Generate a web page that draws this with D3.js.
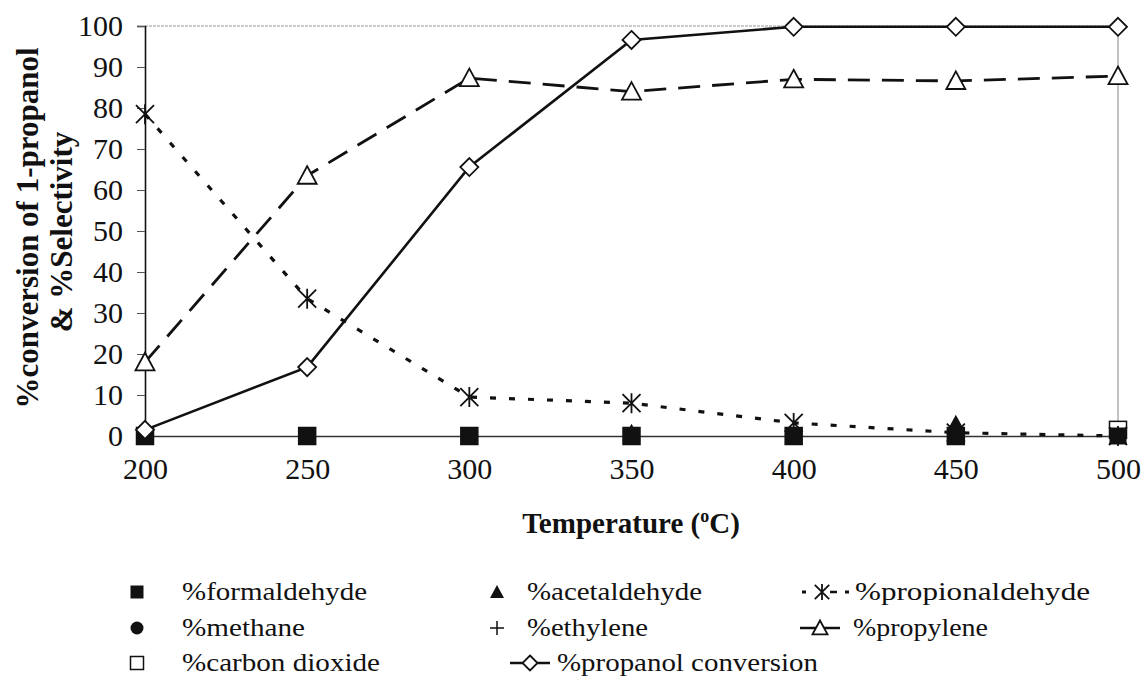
<!DOCTYPE html>
<html>
<head>
<meta charset="utf-8">
<script src="https://cdn.jsdelivr.net/npm/d3@7"></script>
<style>
  html, body { margin: 0; padding: 0; background: #fff; }
  svg { display: block; }
</style>
</head>
<body>
<svg id="chart" width="1142" height="690"></svg>
<script>
// Reaction temperature (°C)
const temperatures = [200, 250, 300, 350, 400, 450, 500];

// Selectivity (%) of each product and 1-propanol conversion (%)
const formaldehyde    = [0, 0, 0, 0, 0, 0, 0];
const acetaldehyde    = [0, 0, 0, 0.8, 0, 3, 0];
const propionaldehyde = [78.5, 33.5, 9.5, 8, 3.2, 0.8, 0];
const methane         = [0, 0, 0, 0, 0, 0, 0];
const ethylene        = [0, 0, 0, 0, 0, 0, 0];
const propylene       = [18, 63.5, 87.3, 84, 87, 86.6, 87.8];
const carbonDioxide   = [0, 0, 0, 0, 0, 0, 1.5];
const propanolConv    = [1.5, 16.8, 65.6, 96.6, 99.8, 99.8, 99.8];

const yTicks = [0, 10, 20, 30, 40, 50, 60, 70, 80, 90, 100];
const xTicks = [200, 250, 300, 350, 400, 450, 500];

const FONT = "'Liberation Serif', 'Times New Roman', serif";
const svg = d3.select("#chart");
const plotLeft = 145, plotRight = 1118, plotTop = 26, plotBottom = 436;

const x = d3.scaleLinear().domain([200, 500]).range([plotLeft, plotRight]);
const y = d3.scaleLinear().domain([0, 100]).range([plotBottom, plotTop]);

// plot frame: top and right edges in light grey
svg.append("line").attr("x1", plotLeft).attr("x2", plotRight).attr("y1", plotTop).attr("y2", plotTop)
  .attr("stroke", "#9a9a9a").attr("stroke-width", 1.2).attr("stroke-dasharray", "3,1");
svg.append("line").attr("x1", plotRight).attr("x2", plotRight).attr("y1", plotTop).attr("y2", plotBottom)
  .attr("stroke", "#9a9a9a").attr("stroke-width", 1.2);

// y axis
const yAxis = svg.append("g").attr("transform", `translate(${plotLeft},0)`)
  .call(d3.axisLeft(y).tickValues(yTicks).tickSize(8).tickPadding(14).tickFormat(d3.format("d")));
yAxis.select(".domain").attr("stroke", "#111").attr("stroke-width", 1.6);
yAxis.selectAll(".tick line").attr("stroke", "#555").attr("stroke-width", 1);
yAxis.selectAll(".tick text").attr("font-size", 30).attr("fill", "#111").style("font-family", FONT);

// x axis
const xAxis = svg.append("g").attr("transform", `translate(0,${plotBottom})`)
  .call(d3.axisBottom(x).tickValues(xTicks).tickSize(0).tickPadding(22).tickFormat(d3.format("d")));
xAxis.select(".domain").attr("stroke", "#333").attr("stroke-width", 1.3);
xAxis.selectAll(".tick text").attr("font-size", 30).attr("fill", "#111").style("font-family", FONT);

// axis titles
svg.append("text").attr("transform", "translate(38,228) rotate(-90)")
  .attr("text-anchor", "middle").attr("font-size", 31).attr("font-weight", "bold")
  .attr("fill", "#111").style("font-family", FONT)
  .text("%conversion of 1-propanol");
svg.append("text").attr("transform", "translate(72,232) rotate(-90)")
  .attr("text-anchor", "middle").attr("font-size", 31).attr("font-weight", "bold")
  .attr("fill", "#111").style("font-family", FONT)
  .text("&  %Selectivity");

const xTitle = svg.append("text").attr("x", 631).attr("y", 533)
  .attr("text-anchor", "middle").attr("font-size", 29).attr("font-weight", "bold")
  .attr("fill", "#111").style("font-family", FONT);
xTitle.append("tspan").text("Temperature (");
xTitle.append("tspan").attr("font-size", 18).attr("dy", -11).text("o");
xTitle.append("tspan").attr("dy", 11).text("C)");

// marker shapes
function drawMarker(g, kind, cx, cy, s) {
  const h = s / 2;
  if (kind === "square") {
    g.append("rect").attr("x", cx - h).attr("y", cy - h).attr("width", s).attr("height", s).attr("fill", "#111");
  } else if (kind === "opensquare") {
    g.append("rect").attr("x", cx - h).attr("y", cy - h).attr("width", s).attr("height", s)
      .attr("fill", "#fff").attr("stroke", "#111").attr("stroke-width", 1.5);
  } else if (kind === "triangle") {
    g.append("path").attr("d", `M${cx},${cy - h}L${cx + h},${cy + h * 0.85}L${cx - h},${cy + h * 0.85}Z`).attr("fill", "#111");
  } else if (kind === "opentriangle") {
    g.append("path").attr("d", `M${cx},${cy - h}L${cx + h},${cy + h * 0.85}L${cx - h},${cy + h * 0.85}Z`)
      .attr("fill", "#fff").attr("stroke", "#111").attr("stroke-width", 1.8);
  } else if (kind === "circle") {
    g.append("circle").attr("cx", cx).attr("cy", cy).attr("r", h).attr("fill", "#111");
  } else if (kind === "plus") {
    g.append("path").attr("d", `M${cx - h},${cy}H${cx + h}M${cx},${cy - h}V${cy + h}`)
      .attr("stroke", "#111").attr("stroke-width", 1.5);
  } else if (kind === "diamond") {
    g.append("path").attr("d", `M${cx},${cy - h}L${cx + h},${cy}L${cx},${cy + h}L${cx - h},${cy}Z`)
      .attr("fill", "#fff").attr("stroke", "#111").attr("stroke-width", 1.8);
  } else if (kind === "asterisk") {
    const d = h * 0.9;
    g.append("path").attr("d", `M${cx - d},${cy - d}L${cx + d},${cy + d}M${cx + d},${cy - d}L${cx - d},${cy + d}M${cx},${cy - h}V${cy + h}`)
      .attr("stroke", "#111").attr("stroke-width", 1.8);
  }
}

const series = [
  { name: "%carbon dioxide", values: carbonDioxide, marker: "opensquare", size: 17, line: null },
  { name: "%methane", values: methane, marker: "circle", size: 16, line: null },
  { name: "%ethylene", values: ethylene, marker: "plus", size: 16, line: null },
  { name: "%acetaldehyde", values: acetaldehyde, marker: "triangle", size: 18, line: null },
  { name: "%formaldehyde", values: formaldehyde, marker: "square", size: 17, line: null },
  { name: "%propionaldehyde", values: propionaldehyde, marker: "asterisk", size: 20, line: { dash: "6,13", width: 3.2 } },
  { name: "%propylene", values: propylene, marker: "opentriangle", size: 19, line: { dash: "22,12", width: 2.8 } },
  { name: "%propanol conversion", values: propanolConv, marker: "diamond", size: 18, line: { dash: null, width: 2.6 } }
];

const lineGen = d3.line().x(d => x(d[0])).y(d => y(d[1]));
const plot = svg.append("g");

series.forEach(s => {
  const pts = temperatures.map((t, i) => [t, s.values[i]]);
  if (s.line) {
    plot.append("path").attr("d", lineGen(pts)).attr("fill", "none")
      .attr("stroke", "#111").attr("stroke-width", s.line.width)
      .attr("stroke-dasharray", s.line.dash);
  }
  const mg = plot.append("g");
  pts.forEach(p => drawMarker(mg, s.marker, x(p[0]), y(p[1]), s.size));
});

// legend: three columns, three rows
const legendItems = [
  { name: "%formaldehyde", marker: "square", mx: 137, tx: 182, cy: 592, w: 185, size: 13 },
  { name: "%acetaldehyde", marker: "triangle", mx: 497, tx: 527, cy: 592, w: 175, size: 14 },
  { name: "%propionaldehyde", marker: "asterisk", mx: 822, tx: 855, cy: 592, w: 235, size: 16, line: "dots" },
  { name: "%methane", marker: "circle", mx: 137, tx: 182, cy: 628, w: 123, size: 13 },
  { name: "%ethylene", marker: "plus", mx: 497, tx: 527, cy: 628, w: 121, size: 14 },
  { name: "%propylene", marker: "opentriangle", mx: 820, tx: 853, cy: 628, w: 135, size: 15, line: "solid" },
  { name: "%carbon dioxide", marker: "opensquare", mx: 137, tx: 182, cy: 663, w: 198, size: 13 },
  { name: "%propanol conversion", marker: "diamond", mx: 530, tx: 557, cy: 663, w: 261, size: 15, line: "solid" }
];

const legend = svg.append("g");
legendItems.forEach(it => {
  const cy = it.cy;
  if (it.line === "solid") {
    legend.append("line").attr("x1", it.mx - 20).attr("x2", it.mx + 20).attr("y1", cy).attr("y2", cy)
      .attr("stroke", "#111").attr("stroke-width", 2.6);
  } else if (it.line === "dots") {
    [-18, 25].forEach(dx => legend.append("rect").attr("x", it.mx + dx - 2).attr("y", cy - 1.5)
      .attr("width", 4).attr("height", 3).attr("fill", "#111"));
    legend.append("line").attr("x1", it.mx + 8).attr("x2", it.mx + 15).attr("y1", cy).attr("y2", cy)
      .attr("stroke", "#111").attr("stroke-width", 2.5);
  }
  drawMarker(legend, it.marker, it.mx, cy, it.size);
  legend.append("text").attr("x", it.tx).attr("y", cy + 8).attr("font-size", 26)
    .attr("fill", "#111").style("font-family", FONT)
    .attr("textLength", it.w).attr("lengthAdjust", "spacingAndGlyphs").text(it.name);
});
</script>
</body>
</html>
